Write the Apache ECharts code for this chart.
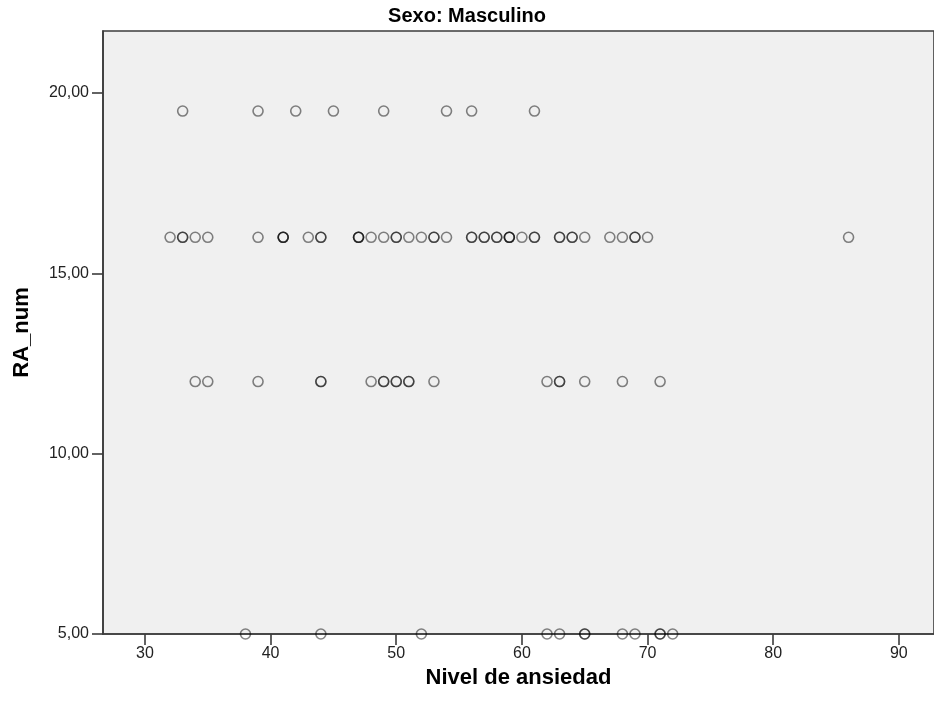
<!DOCTYPE html>
<html>
<head>
<meta charset="utf-8">
<script src="https://cdn.jsdelivr.net/npm/echarts@6/dist/echarts.min.js"></script>
<style>html,body{margin:0;padding:0;background:#fff}#c{width:934px;height:701px}</style>
</head>
<body>
<div id="c"></div>
<script>
var chartTitle = "Sexo: Masculino";
var xName = "Nivel de ansiedad";
var yName = "RA_num";
var xTicks = [30, 40, 50, 60, 70, 80, 90];
var yTicks = [5, 10, 15, 20];
// Nivel de ansiedad values for each RA_num level (repeats = overlapping points)
var raLevels = [19.5, 16, 12, 5];
var ra195 = [33, 39, 42, 45, 49, 54, 56, 61];
var ra16 = [32, 33, 33, 34, 35, 39, 41, 41, 41, 43, 44, 44, 47, 47, 47, 48, 49, 50, 50, 51, 52, 53, 53, 54, 56, 56, 57, 57, 58, 58, 59, 59, 59, 60, 61, 61, 63, 63, 64, 64, 65, 67, 68, 69, 69, 70, 86];
var ra12 = [34, 35, 39, 44, 44, 48, 49, 49, 50, 50, 51, 51, 53, 62, 63, 63, 65, 68, 71];
var ra5 = [38, 44, 52, 62, 63, 65, 65, 68, 69, 71, 71, 72];

var groups = [ra195, ra16, ra12, ra5];
var pts = [];
groups.forEach(function (g, i) { g.forEach(function (x) { pts.push([x, raLevels[i]]); }); });

var font = "'Liberation Sans', Arial, sans-serif";
var chart = echarts.init(document.getElementById('c'), null, {renderer: 'canvas'});
chart.setOption({
  animation: false,
  backgroundColor: '#ffffff',
  title: {
    text: chartTitle, left: 'center', top: 1,
    textStyle: {fontFamily: font, fontSize: 20, fontWeight: 'bold', color: '#000'}
  },
  grid: {
    left: 103, right: -4, top: 31, bottom: 67,
    show: true, backgroundColor: '#f0f0f0', borderColor: '#3c3c3c', borderWidth: 1.6
  },
  xAxis: {
    type: 'value', min: 26.66, max: 92.8,
    name: xName, nameLocation: 'middle', nameGap: 33,
    nameTextStyle: {fontFamily: font, fontSize: 22, fontWeight: 'bold', color: '#000'},
    axisLine: {show: true, lineStyle: {color: '#3c3c3c', width: 1.6}},
    axisTick: {show: true, inside: false, length: 11, customValues: xTicks, lineStyle: {color: '#3c3c3c', width: 1.6}},
    axisLabel: {customValues: xTicks, fontFamily: font, fontSize: 16, color: '#222', margin: 12},
    splitLine: {show: false}
  },
  yAxis: {
    type: 'value', min: 5, max: 21.72,
    name: yName, nameLocation: 'middle', nameGap: 70,
    nameTextStyle: {fontFamily: font, fontSize: 22, fontWeight: 'bold', color: '#000'},
    axisLine: {show: true, lineStyle: {color: '#3c3c3c', width: 1.6}},
    axisTick: {show: true, inside: false, length: 11, customValues: yTicks, lineStyle: {color: '#3c3c3c', width: 1.6}},
    axisLabel: {
      customValues: yTicks, fontFamily: font, fontSize: 16, color: '#222', margin: 14,
      formatter: function (v) { return v.toFixed(2).replace('.', ','); }
    },
    splitLine: {show: false}
  },
  series: [{
    type: 'scatter',
    data: pts,
    symbol: 'circle',
    symbolSize: 10,
    clip: true,
    itemStyle: {color: 'rgba(0,0,0,0)', borderColor: 'rgba(0,0,0,0.6)', borderWidth: 1.6}
  }]
});
</script>
</body>
</html>
